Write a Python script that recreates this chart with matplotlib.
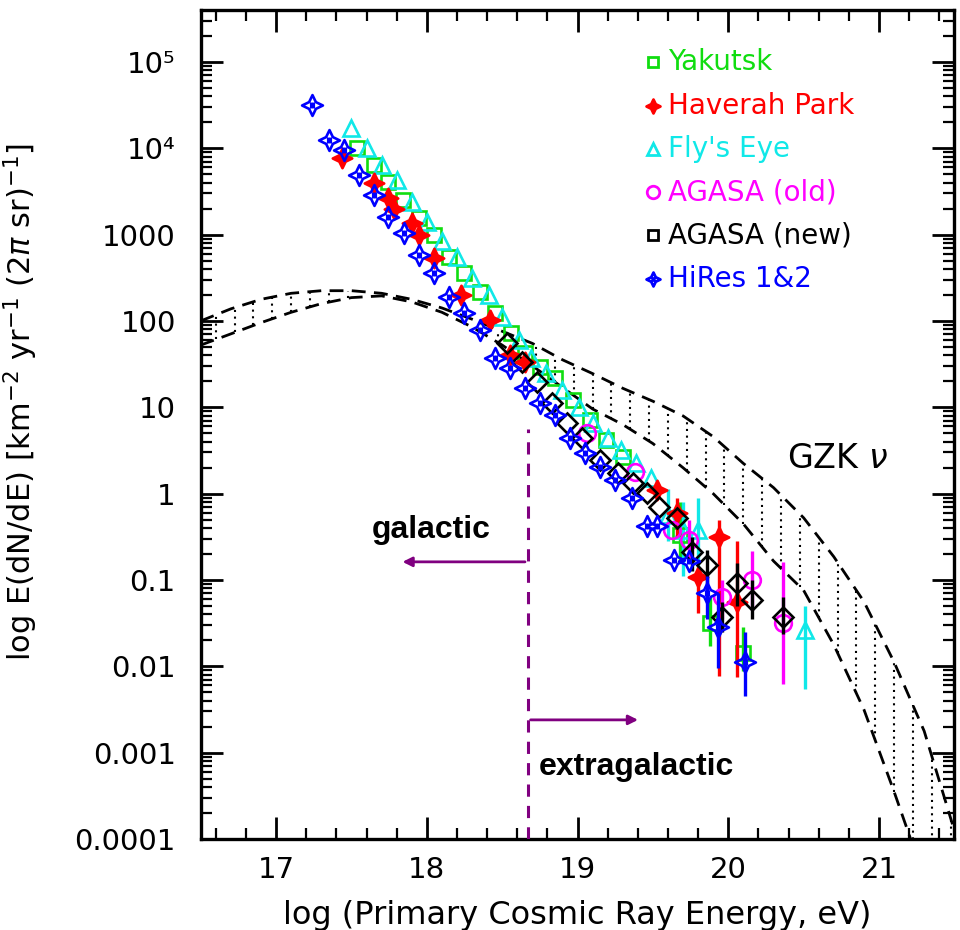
import numpy as np
import matplotlib
matplotlib.use('Agg')
import matplotlib.pyplot as plt
from matplotlib.path import Path
from matplotlib.ticker import FixedLocator, FixedFormatter, LogLocator, NullFormatter, MultipleLocator

# GZK neutrino band, log10(E/eV) vs log10(flux)
gzk_up_x = [16.5, 16.7, 16.9, 17.1, 17.3, 17.5, 17.7, 17.9, 18.1, 18.3, 18.5, 18.7, 18.9,
            19.1, 19.3, 19.5, 19.7, 19.9, 20.1, 20.3, 20.5, 20.7, 20.9, 21.1, 21.3, 21.5]
gzk_up_y = [2.0, 2.14, 2.25, 2.32, 2.35, 2.35, 2.32, 2.25, 2.15, 2.02, 1.88, 1.74, 1.55,
            1.39, 1.22, 1.07, 0.90, 0.66, 0.35, 0.07, -0.28, -0.73, -1.25, -1.95, -2.75, -3.9]
gzk_lo_x = [16.5, 16.7, 16.9, 17.1, 17.3, 17.5, 17.7, 17.9, 18.1, 18.3, 18.5, 18.7, 18.9,
            19.1, 19.3, 19.5, 19.7, 19.9, 20.1, 20.3, 20.5, 20.7, 20.9, 21.1, 21.25]
gzk_lo_y = [1.72, 1.85, 1.98, 2.10, 2.20, 2.27, 2.29, 2.22, 2.10, 1.93, 1.72, 1.48, 1.23,
            0.98, 0.80, 0.58, 0.30, 0.00, -0.35, -0.78, -1.12, -1.75, -2.5, -3.45, -4.2]

# Yakutsk
yak_x = [17.54, 17.65, 17.74, 17.84, 17.95, 18.05, 18.15, 18.25, 18.35, 18.45, 18.56, 18.65,
         18.75, 18.85, 18.97, 19.08, 19.19, 19.30, 19.68, 19.88, 20.10]
yak_y = [4.00, 3.80, 3.61, 3.40, 3.19, 2.99, 2.74, 2.55, 2.33, 2.09, 1.86, 1.63,
         1.47, 1.34, 1.08, 0.85, 0.62, 0.42, -0.48, -1.50, -1.85]
yak_bar_x = [19.68, 19.88, 20.10]
yak_bar_top = [-0.10, -1.20, -1.55]
yak_bar_bot = [-0.80, -1.77, -2.05]

# Haverah Park
hp_x = [17.44, 17.65, 17.74, 17.78, 17.90, 17.95, 18.05, 18.23, 18.42, 18.55, 18.65,
        19.53, 19.66, 19.80, 19.94, 20.06]
hp_y = [3.89, 3.60, 3.42, 3.30, 3.13, 2.99, 2.73, 2.30, 2.01, 1.60, 1.52,
        0.04, -0.22, -0.96, -0.50, -1.25]
hp_bar_x = [19.66, 19.80, 19.94, 20.06]
hp_bar_top = [-0.05, -0.85, -0.30, -0.55]
hp_bar_bot = [-0.50, -1.38, -2.11, -2.12]

# Fly's Eye
fe_x = [17.50, 17.60, 17.70, 17.80, 17.90, 18.00, 18.10, 18.20, 18.30, 18.41, 18.50, 18.61,
        18.69, 18.79, 18.90, 19.01, 19.10, 19.20, 19.29, 19.39, 19.49, 19.60, 19.70, 19.80, 20.51]
fe_y = [4.23, 4.00, 3.80, 3.63, 3.38, 3.14, 2.93, 2.74, 2.50, 2.30, 2.05, 1.78,
        1.57, 1.40, 1.20, 1.00, 0.82, 0.64, 0.51, 0.35, 0.18, -0.25, -0.42, -0.42, -1.58]
fe_bar_x = [19.60, 19.70, 19.80, 20.51]
fe_bar_top = [0.05, -0.10, -0.05, -1.30]
fe_bar_bot = [-0.55, -0.95, -0.85, -2.26]

# AGASA (old)
ao_x = [19.06, 19.38, 19.63, 19.74, 19.96, 20.16, 20.36]
ao_y = [0.70, 0.25, -0.42, -0.54, -1.20, -1.00, -1.50]
ao_bar_x = [19.74, 19.96, 20.16, 20.36]
ao_bar_top = [-0.30, -1.00, -0.66, -0.79]
ao_bar_bot = [-0.75, -1.45, -1.35, -2.21]

# AGASA (new)
an_x = [18.53, 18.63, 18.73, 18.83, 18.93, 19.03, 19.15, 19.27, 19.37, 19.46, 19.54, 19.66,
        19.76, 19.86, 19.96, 20.06, 20.16, 20.36]
an_y = [1.74, 1.52, 1.29, 1.05, 0.82, 0.64, 0.39, 0.24, 0.12, 0.01, -0.16, -0.28,
        -0.68, -0.83, -1.43, -1.03, -1.23, -1.43]
an_bar_x = [19.76, 19.86, 19.96, 20.06, 20.16, 20.36]
an_bar_top = [-0.50, -0.65, -1.25, -0.80, -1.00, -1.20]
an_bar_bot = [-0.90, -1.05, -1.60, -1.30, -1.45, -1.62]

# HiRes 1&2
hr_x = [17.24, 17.35, 17.45, 17.55, 17.65, 17.74, 17.85, 17.95, 18.05, 18.15, 18.25, 18.35,
        18.45, 18.55, 18.65, 18.75, 18.85, 18.95, 19.05, 19.15, 19.25, 19.36, 19.46, 19.53,
        19.64, 19.74, 19.86, 19.93, 20.11]
hr_y = [4.50, 4.09, 3.98, 3.69, 3.46, 3.20, 3.02, 2.76, 2.55, 2.28, 2.09, 1.89,
        1.57, 1.45, 1.22, 1.05, 0.91, 0.64, 0.47, 0.31, 0.16, -0.05, -0.38, -0.38,
        -0.77, -0.78, -1.15, -1.55, -1.95]
hr_bar_x = [19.86, 19.93, 20.11]
hr_bar_top = [-0.95, -1.15, -1.60]
hr_bar_bot = [-1.45, -2.02, -2.34]

ytick_vals = [1e-4, 1e-3, 1e-2, 1e-1, 1, 10, 100, 1000, 1e4, 1e5]
ytick_labels = ['0.0001', '0.001', '0.01', '0.1', '1', '10', '100', '1000', '10⁴', '10⁵']
xtick_vals = [17, 18, 19, 20, 21]

transition_x = 18.67

GREEN = '#10dd10'
RED = '#ff0000'
CYAN = '#10e8e8'
MAGENTA = '#ff00ff'
BLACK = '#000000'
BLUE = '#0000ff'
PURPLE = '#800080'


def star_marker(inner=0.46):
    ang = np.arange(8) * np.pi / 4 + np.pi / 2
    r = np.where(np.arange(8) % 2 == 0, 1.0, inner)
    verts = list(zip(r * np.cos(ang), r * np.sin(ang)))
    verts.append(verts[0])
    codes = [Path.MOVETO] + [Path.LINETO] * 7 + [Path.CLOSEPOLY]
    # the two little bars inside the IDL symbol
    verts += [(-0.12, -0.28), (-0.12, 0.28), (0.12, -0.28), (0.12, 0.28)]
    codes += [Path.MOVETO, Path.LINETO, Path.MOVETO, Path.LINETO]
    return Path(verts, codes)


STAR = star_marker()


def draw_series(ax, x, ly, bx, btop, bbot, color, marker, ms, filled=False, z=3):
    if bx:
        ax.vlines(bx, 10 ** np.array(bbot), 10 ** np.array(btop), color=color, lw=2.4, zorder=z)
    ax.plot(x, 10 ** np.array(ly), ls='none', marker=marker, ms=ms,
            mfc=color if filled else 'none', mec=color, mew=1.9, zorder=z + 0.5)


fig = plt.figure(figsize=(9.6, 9.3), dpi=100)
ax = fig.add_axes([0.2091, 0.0978, 0.785, 0.8914])
ax.set_yscale('log')
ax.set_xlim(16.5, 21.5)
ax.set_ylim(1e-4, 10 ** 5.6)

# GZK band: dashed edges with dotted fill lines
ax.plot(gzk_up_x, 10 ** np.array(gzk_up_y), color='black', lw=2.0, dashes=(5, 3), zorder=2)
ax.plot(gzk_lo_x, 10 ** np.array(gzk_lo_y), color='black', lw=2.0, dashes=(5, 3), zorder=2)
hatch_x = np.arange(16.6, 21.5, 0.125)
hi = np.interp(hatch_x, gzk_up_x, gzk_up_y)
lo = np.interp(hatch_x, gzk_lo_x, gzk_lo_y, right=-4.5)
for hx, h, l in zip(hatch_x, hi, lo):
    if h - l > 0.08:
        ax.plot([hx, hx], [10 ** l, 10 ** h], color='black', lw=1.5, ls=(0, (1, 2.2)), zorder=2)

draw_series(ax, yak_x, yak_y, yak_bar_x, yak_bar_top, yak_bar_bot, GREEN, 's', 9.5)
draw_series(ax, fe_x, fe_y, fe_bar_x, fe_bar_top, fe_bar_bot, CYAN, '^', 11)
draw_series(ax, hp_x, hp_y, hp_bar_x, hp_bar_top, hp_bar_bot, RED, STAR, 14, filled=True, z=4)
draw_series(ax, ao_x, ao_y, ao_bar_x, ao_bar_top, ao_bar_bot, MAGENTA, 'o', 12, z=5)
draw_series(ax, an_x, an_y, an_bar_x, an_bar_top, an_bar_bot, BLACK, 'D', 10, z=6)
draw_series(ax, hr_x, hr_y, hr_bar_x, hr_bar_top, hr_bar_bot, BLUE, STAR, 15, z=7)

# galactic / extragalactic
ax.plot([transition_x, transition_x], [1e-4, 10 ** 0.75], color=PURPLE, lw=2.2,
        dashes=(4, 3), zorder=8)
ax.annotate('', xy=(17.82, 10 ** -0.79), xytext=(transition_x, 10 ** -0.79),
            arrowprops=dict(arrowstyle='-|>', color=PURPLE, lw=2.0, mutation_scale=14))
ax.annotate('', xy=(19.42, 10 ** -2.62), xytext=(transition_x, 10 ** -2.62),
            arrowprops=dict(arrowstyle='-|>', color=PURPLE, lw=2.0, mutation_scale=14))
ax.text(18.03, 10 ** -0.51, 'galactic', fontsize=23, fontweight='bold',
        family='Liberation Sans', ha='center', va='baseline')
ax.text(19.39, 10 ** -3.26, 'extragalactic', fontsize=23, fontweight='bold',
        family='Liberation Sans', ha='center', va='baseline')
ax.text(20.39, 10 ** 0.41, r'GZK $\nu$', fontsize=24, ha='left', va='center')

# legend drawn by hand, coloured labels
legend = [('Yakutsk', GREEN, 's', 7.5, False), ('Haverah Park', RED, STAR, 10, True),
          ("Fly's Eye", CYAN, '^', 8, False), ('AGASA (old)', MAGENTA, 'o', 9, False),
          ('AGASA (new)', BLACK, 's', 7.5, False), ('HiRes 1&2', BLUE, STAR, 10, False)]
for i, (name, col, mk, size, fill) in enumerate(legend):
    yy = 0.937 - i * 0.0522
    ax.plot([0.600], [yy], transform=ax.transAxes, marker=mk, ms=size, mew=2.0,
            mec=col, mfc=col if fill else 'none', ls='none', clip_on=False)
    ax.text(0.620, yy, name, transform=ax.transAxes, color=col, fontsize=20,
            ha='left', va='center')

ax.yaxis.set_major_locator(FixedLocator(ytick_vals))
ax.yaxis.set_major_formatter(FixedFormatter(ytick_labels))
ax.yaxis.set_minor_locator(LogLocator(base=10, subs=np.arange(2, 10), numticks=20))
ax.yaxis.set_minor_formatter(NullFormatter())
ax.xaxis.set_major_locator(FixedLocator(xtick_vals))
ax.xaxis.set_minor_locator(MultipleLocator(0.2))

ax.tick_params(which='both', direction='in', top=True, right=True)
ax.tick_params(which='major', length=16, width=2.0)
ax.tick_params(which='minor', length=8, width=1.6)
ax.tick_params(axis='x', which='major', labelsize=21, pad=12)
ax.tick_params(axis='y', which='major', labelsize=21, pad=18)
for sp in ax.spines.values():
    sp.set_linewidth(2.4)

ax.set_xlabel('log (Primary Cosmic Ray Energy, eV)', fontsize=23)
ax.xaxis.set_label_coords(0.5, -0.073)
ax.set_ylabel(r'log E(dN/dE) [km$^{-2}$ yr$^{-1}$ (2$\pi$ sr)$^{-1}$]', fontsize=22)
ax.yaxis.set_label_coords(-0.213, 0.527)

fig.savefig('out.png', dpi=100)
